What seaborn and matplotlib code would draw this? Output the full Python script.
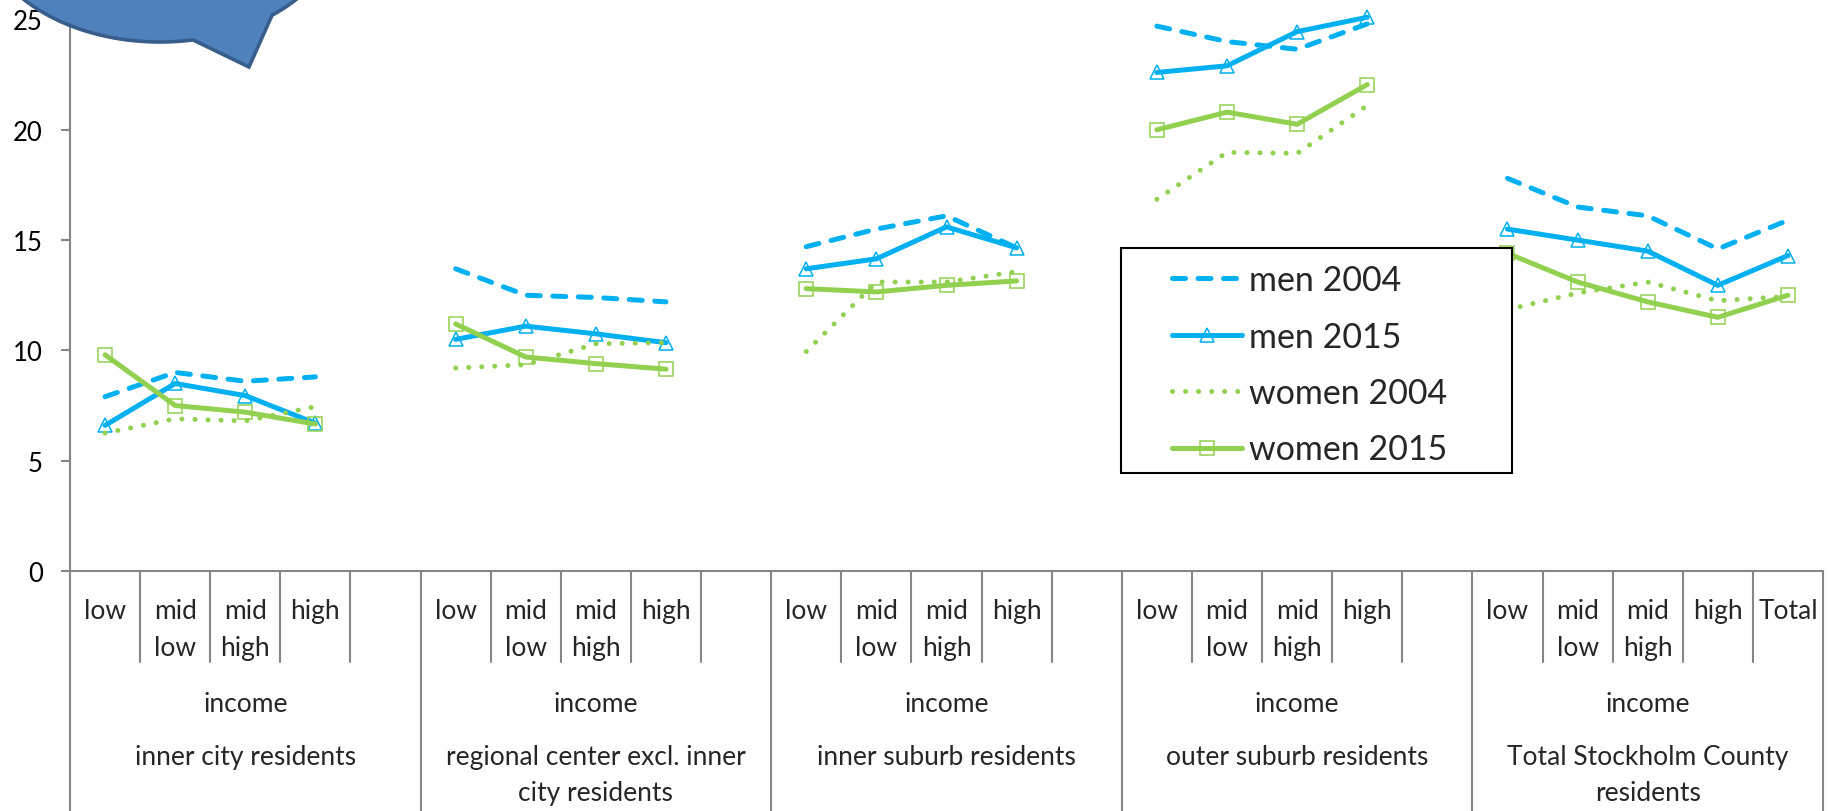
import numpy as np
import pandas as pd
import matplotlib
matplotlib.use("Agg")
import matplotlib.pyplot as plt
from matplotlib.lines import Line2D
from matplotlib.patches import PathPatch, Rectangle
from matplotlib.path import Path
import seaborn as sns

# ---- data -------------------------------------------------------------
groups = [
    ["inner city residents"],
    ["regional center excl. inner", "city residents"],
    ["inner suburb residents"],
    ["outer suburb residents"],
    ["Total Stockholm County", "residents"],
]
group_axis_label = "income"
levels = [["low"], ["mid", "low"], ["mid", "high"], ["high"]]
total_level = ["Total"]

series_names = ["men 2004", "men 2015", "women 2004", "women 2015"]

men_2004 = [
    [7.9, 9.0, 8.6, 8.8],
    [13.7, 12.5, 12.4, 12.2],
    [14.7, 15.5, 16.1, 14.65],
    [24.7, 24.0, 23.65, 24.8],
    [17.8, 16.5, 16.1, 14.6, 15.9],
]
men_2015 = [
    [6.6, 8.5, 7.95, 6.7],
    [10.5, 11.1, 10.75, 10.35],
    [13.7, 14.15, 15.6, 14.65],
    [22.6, 22.9, 24.45, 25.1],
    [15.5, 15.0, 14.5, 12.95, 14.3],
]
women_2004 = [
    [6.25, 6.9, 6.8, 7.45],
    [9.2, 9.35, 10.3, 10.35],
    [9.95, 13.1, 13.1, 13.57],
    [16.85, 18.98, 18.93, 21.1],
    [11.85, 12.6, 13.1, 12.25, 12.45],
]
women_2015 = [
    [9.8, 7.5, 7.2, 6.66],
    [11.2, 9.7, 9.4, 9.15],
    [12.8, 12.65, 12.95, 13.15],
    [20.0, 20.8, 20.25, 22.05],
    [14.4, 13.1, 12.2, 11.5, 12.5],
]
series_values = [men_2004, men_2015, women_2004, women_2015]

# ---- styling ----------------------------------------------------------
BLUE = "#00B0F0"
GREEN = "#92D050"
AXIS_GRAY = "#868686"
colors = {"men 2004": BLUE, "men 2015": BLUE, "women 2004": GREEN, "women 2015": GREEN}
linestyles = {"men 2004": (0, (2.6, 2.5)), "men 2015": "-",
              "women 2004": (0, (0.01, 2.6)), "women 2015": "-"}
markers = {"men 2004": None, "men 2015": "^", "women 2004": None, "women 2015": "s"}
LW = 3.6
MS = 10.5
MEW = 1.1

sns.set_theme(style="white")
plt.rcParams["font.family"] = ["Lato", "DejaVu Sans"]

W, H = 1830, 812
fig = plt.figure(figsize=(W / 100, H / 100), dpi=100)
fig.patch.set_facecolor("white")

# plot area in pixels
L, R, B, T = 70, 1823, 572, 0
ax = fig.add_axes([L / W, 1 - B / H, (R - L) / W, (B - T) / H])

slots_per_group = 5

# long-form table, one unit per group so lines break between groups
rows = []
for name, vals in zip(series_names, series_values):
    for g, gvals in enumerate(vals):
        for i, v in enumerate(gvals):
            rows.append({"series": name, "segment": g,
                         "x": g * slots_per_group + i, "value": v})
df = pd.DataFrame(rows)

for name in series_names:
    kws = dict(linewidth=LW, linestyle=linestyles[name],
               dash_capstyle="round", solid_capstyle="round")
    if markers[name]:
        kws.update(marker=markers[name], markersize=MS, markerfacecolor="none",
                   markeredgecolor=colors[name], markeredgewidth=MEW)
    sns.lineplot(data=df[df["series"] == name], x="x", y="value", units="segment",
                 estimator=None, sort=False, color=colors[name], legend=False,
                 ax=ax, **kws)

for line in ax.lines:
    if line.get_marker() not in (None, "None", ""):
        line.set_markeredgecolor(line.get_color())
        line.set_markerfacecolor("none")

ax.set_xlim(-0.5, 5 * slots_per_group - 0.5)
ax.set_ylim(0, B / 22.06)
ax.set_yticks([0, 5, 10, 15, 20, 25])
ax.set_xticks([])
ax.set_xlabel("")
ax.set_ylabel("")
for side in ["top", "right"]:
    ax.spines[side].set_visible(False)
for side in ["left", "bottom"]:
    ax.spines[side].set_color(AXIS_GRAY)
    ax.spines[side].set_linewidth(1.5)
ax.tick_params(axis="y", direction="out", length=6.5, width=1.5, color=AXIS_GRAY,
               pad=13, labelsize=18.5, labelcolor="black", left=True)
ax.set_facecolor("white")

# ---- multi-level category axis ---------------------------------------
xt = ax.get_xaxis_transform()


def ypix(p):
    return (B - p) / (B - T)


slot_bottom = ypix(663)
table_bottom = ypix(H + 2)
n_slots = 5 * slots_per_group
for k in range(n_slots + 1):
    y1 = table_bottom if k % slots_per_group == 0 else slot_bottom
    ax.add_line(Line2D([k - 0.5, k - 0.5], [0, y1], transform=xt,
                       color=AXIS_GRAY, lw=1.5, clip_on=False))

TXT = 19
line_gap = 37
for g in range(len(groups)):
    lv = levels + ([total_level] if g == len(groups) - 1 else [])
    for i, lab in enumerate(lv):
        for j, part in enumerate(lab):
            ax.text(g * slots_per_group + i, ypix(619 + j * line_gap), part,
                    transform=xt, ha="center", va="baseline", fontsize=TXT,
                    clip_on=False)
    cx = g * slots_per_group + 2
    ax.text(cx, ypix(712), group_axis_label, transform=xt, ha="center",
            va="baseline", fontsize=TXT, clip_on=False)
    for j, part in enumerate(groups[g]):
        ax.text(cx, ypix(765 + j * 36), part, transform=xt, ha="center",
                va="baseline", fontsize=TXT, clip_on=False)

# ---- legend -----------------------------------------------------------
handles = []
for n in series_names:
    h = Line2D([], [], color=colors[n], lw=LW, linestyle=linestyles[n],
               dash_capstyle="round", solid_capstyle="round")
    if markers[n]:
        h.set_marker(markers[n])
        h.set_markersize(MS)
        h.set_markerfacecolor("none")
        h.set_markeredgecolor(colors[n])
        h.set_markeredgewidth(MEW)
    handles.append(h)

fig.add_artist(Rectangle((1121 / W, 1 - 474 / H), (1512 - 1121) / W, (474 - 249) / H,
                         transform=fig.transFigure, facecolor="white",
                         edgecolor="black", lw=1.5, zorder=5))
leg = fig.legend(handles, series_names, loc="upper left",
                 bbox_to_anchor=(1172 / W, 1 - 265 / H), frameon=False,
                 fontsize=24.5, handlelength=2.05, handletextpad=0.2,
                 labelspacing=0.72, borderpad=0, borderaxespad=0)
leg.set_zorder(6)

# ---- callout shape in the top-left corner ----------------------------
cx_, cy_, a_, b_ = 160.0, -80.0, 180.0, 123.0
t1 = np.arccos((193 - cx_) / a_)
t2 = np.arccos((272 - cx_) / a_) + 2 * np.pi
ts = np.linspace(t1, t2, 200)
pts = [(cx_ + a_ * np.cos(t), cy_ + b_ * np.sin(t)) for t in ts]
pts.append((249.0, 68.0))
pts.append(pts[0])
verts = [(x / W, 1 - y / H) for x, y in pts]
codes = [Path.MOVETO] + [Path.LINETO] * (len(verts) - 2) + [Path.CLOSEPOLY]
fig.add_artist(PathPatch(Path(verts, codes), transform=fig.transFigure,
                         facecolor="#4F81BD", edgecolor="#385D8A", lw=2.6,
                         joinstyle="miter", zorder=10, clip_on=False))

fig.savefig("out.png", dpi=100, facecolor="white")
